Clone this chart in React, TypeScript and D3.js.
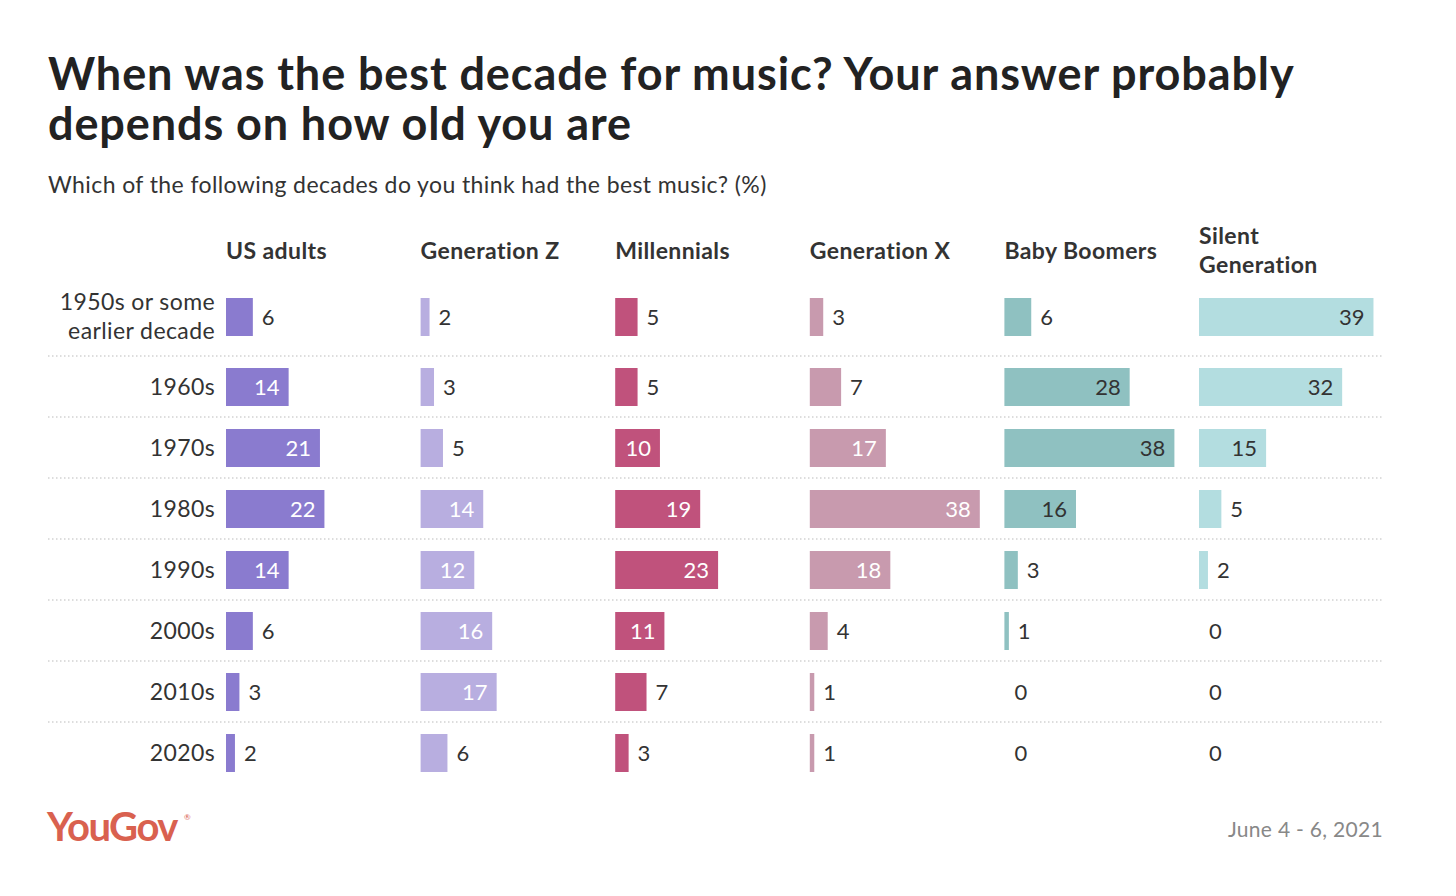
import React from "react";
import * as d3 from "d3";

const decades = ["1950s or some earlier decade", "1960s", "1970s", "1980s", "1990s", "2000s", "2010s", "2020s"];
const groups = ["US adults", "Generation Z", "Millennials", "Generation X", "Baby Boomers", "Silent Generation"];
const colors = ["#8a7bcf", "#b8aee0", "#c0527c", "#c89aae", "#8fc1c1", "#b3dde0"];
const usAdults = [6, 14, 21, 22, 14, 6, 3, 2];
const genZ = [2, 3, 5, 14, 12, 16, 17, 6];
const millennials = [5, 5, 10, 19, 23, 11, 7, 3];
const genX = [3, 7, 17, 38, 18, 4, 1, 1];
const boomers = [6, 28, 38, 16, 3, 1, 0, 0];
const silent = [39, 32, 15, 5, 2, 0, 0, 0];
const series = [usAdults, genZ, millennials, genX, boomers, silent];

const width = 1456;
const height = 896;
const font = "Lato, 'Open Sans', sans-serif";

export default function App() {
  const colX = d3.scaleLinear().domain([0, 5]).range([226, 1199]);
  const x = d3.scaleLinear().domain([0, 38]).range([0, 170]);
  const rowY = d3.scaleLinear().domain([0, 7]).range([326, 753]);
  const cy = (i: number) => (i === 0 ? 317 : rowY(i));
  const barH = 38;

  return (
    <svg width={width} height={height} style={{ position: "absolute", left: 0, top: 0 }} fontFamily={font}>
      <rect width={width} height={height} fill="#fff" />
      <text x={48} y={90} fontSize={45} fontWeight={700} fill="#222" letterSpacing={0.9}>When was the best decade for music? Your answer probably</text>
      <text x={48} y={140} fontSize={45} fontWeight={700} fill="#222" letterSpacing={0.9}>depends on how old you are</text>
      <text x={48} y={193} fontSize={23} fill="#333" letterSpacing={0.4}>Which of the following decades do you think had the best music? (%)</text>

      {groups.map((g, j) =>
        g === "Silent Generation" ? (
          <text key={g} x={colX(j)} fontSize={23} fontWeight={700} fill="#333" letterSpacing={0.4}>
            <tspan x={colX(j)} y={244}>Silent</tspan>
            <tspan x={colX(j)} y={273}>Generation</tspan>
          </text>
        ) : (
          <text key={g} x={colX(j)} y={259} fontSize={23} fontWeight={700} fill="#333" letterSpacing={0.4}>{g}</text>
        )
      )}

      {decades.slice(1).map((_, i) => (
        <line key={i} x1={48} x2={1382} y1={cy(i + 1) - 31} y2={cy(i + 1) - 31}
          stroke="#bbb" strokeDasharray="1.5 2.5" />
      ))}

      {decades.map((d, i) =>
        i === 0 ? (
          <text key={d} textAnchor="end" fontSize={23} fill="#333" letterSpacing={0.4}>
            <tspan x={215} y={310}>1950s or some</tspan>
            <tspan x={215} y={339}>earlier decade</tspan>
          </text>
        ) : (
          <text key={d} x={215} y={cy(i) + 8} textAnchor="end" fontSize={23} fill="#333" letterSpacing={0.4}>{d}</text>
        )
      )}

      {series.map((vals, j) =>
        vals.map((v, i) => {
          const w = x(v);
          const inside = v >= 10;
          const x0 = colX(j);
          return (
            <g key={`${j}-${i}`}>
              {v > 0 && <rect x={x0} y={cy(i) - barH / 2} width={w} height={barH} fill={colors[j]} />}
              <text x={inside ? x0 + w - 9 : x0 + w + (v > 0 ? 9 : 10)} y={cy(i) + 8}
                textAnchor={inside ? "end" : "start"} fontSize={22}
                fill={inside ? (j === 5 || j === 4 ? "#333" : "#fff") : "#333"}>{v}</text>
            </g>
          );
        })
      )}

      <text x={47} y={841} fontSize={40} fontWeight={700} fill="#d9614f" letterSpacing={-1.5}>YouGov</text>
      <text x={184} y={820} fontSize={8} fill="#d9614f">®</text>
      <text x={1383} y={837} textAnchor="end" fontSize={21} fill="#888" letterSpacing={0.3}>June 4 - 6, 2021</text>
    </svg>
  );
}
